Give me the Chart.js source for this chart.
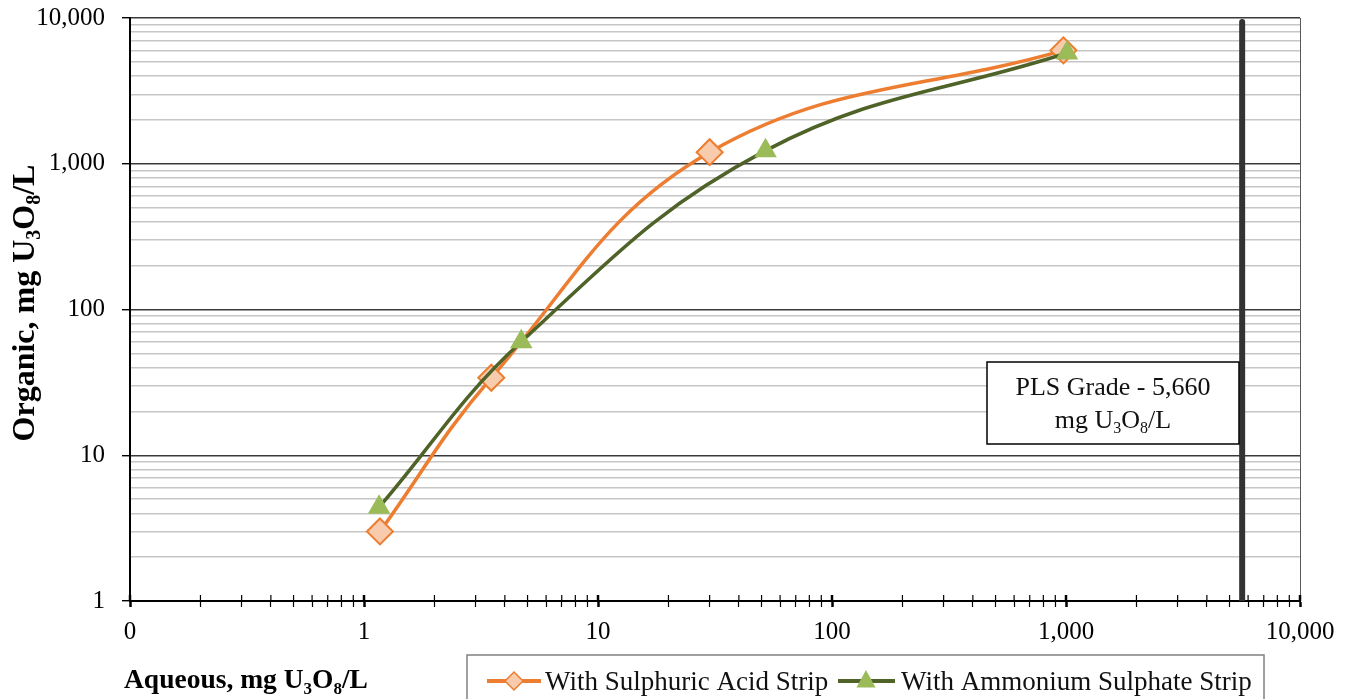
<!DOCTYPE html>
<html lang="en">
<head>
<meta charset="UTF-8">
<title>Uranium Strip Isotherms</title>
<script src="https://cdn.jsdelivr.net/npm/chart.js"></script>
<style>
  body { margin: 0; background: #fff; }
  canvas { display: block; }
</style>
</head>
<body>
<canvas id="isothermChart" width="1351" height="699"></canvas>
<script>
// strip isotherm points (aqueous vs organic, mg U3O8/L)
const sulphuricAqueous = [1.17, 3.5, 30, 975];
const sulphuricOrganic = [3.0, 34, 1200, 6000];
const ammoniumAqueous = [1.16, 4.7, 52, 1010];
const ammoniumOrganic = [4.4, 60, 1230, 5750];

// PLS grade marker line
const plsGrade = 5660;
const plsLineOrganic = [1, 9400];

const xTickValues = [0.1, 1, 10, 100, 1000, 10000];
const xTickLabels = ['0', '1', '10', '100', '1,000', '10,000'];
const yTickValues = [1, 10, 100, 1000, 10000];
const yTickLabels = ['1', '10', '100', '1,000', '10,000'];
const seriesNames = ['With Sulphuric Acid Strip', 'With Ammonium Sulphate Strip'];

const SERIF = '"Liberation Serif", "Times New Roman", serif';
const ORANGE = '#ED7D31', ORANGE_FILL = '#F8CBAD';
const GREEN = '#4F6228', GREEN_FILL = '#9BBB59';

function isDecade(v) {
  const l = Math.log10(v);
  return Math.abs(l - Math.round(l)) < 1e-6;
}

// 1..9 in every decade, same as the minor units on a log axis
function decadeTicks(min, max) {
  const ticks = [];
  for (let d = min; d < max * 0.999; d *= 10) {
    for (let m = 1; m <= 9; m++) ticks.push({ value: +(d * m).toPrecision(6) });
  }
  ticks.push({ value: max });
  return ticks;
}

function tickLabel(v, values, labels) {
  const i = values.findIndex(t => Math.abs(t - v) / t < 1e-6);
  return i >= 0 ? labels[i] : '';
}

// text with subscript pieces, parts = [[text, isSub], ...]
function drawRich(ctx, parts, x, y, size, weight, align) {
  const subSize = Math.round(size * 0.62);
  const font = s => `${weight} ${s}px ${SERIF}`;
  let total = 0;
  for (const [t, sub] of parts) {
    ctx.font = font(sub ? subSize : size);
    total += ctx.measureText(t).width;
  }
  let cx = align === 'center' ? x - total / 2 : align === 'right' ? x - total : x;
  ctx.textAlign = 'left';
  ctx.textBaseline = 'alphabetic';
  for (const [t, sub] of parts) {
    ctx.font = font(sub ? subSize : size);
    ctx.fillText(t, cx, sub ? y + size * 0.2 : y);
    cx += ctx.measureText(t).width;
  }
}

const unitParts = [['mg U', false], ['3', true], ['O', false], ['8', true], ['/L', false]];

function diamond(ctx, x, y, r) {
  ctx.beginPath();
  ctx.moveTo(x, y - r); ctx.lineTo(x + r, y); ctx.lineTo(x, y + r); ctx.lineTo(x - r, y);
  ctx.closePath();
}

function triangle(ctx, x, y, r) {
  ctx.beginPath();
  ctx.moveTo(x, y - r);
  ctx.lineTo(x + r * 0.87, y + r * 0.6);
  ctx.lineTo(x - r * 0.87, y + r * 0.6);
  ctx.closePath();
}

const decorPlugin = {
  id: 'decor',
  afterDraw(chart) {
    const { ctx, chartArea: a, scales: { x } } = chart;
    ctx.save();

    // right edge of the plot area
    ctx.strokeStyle = '#595959';
    ctx.lineWidth = 1;
    ctx.beginPath();
    ctx.moveTo(a.right + 0.5, a.top);
    ctx.lineTo(a.right + 0.5, a.bottom);
    ctx.stroke();

    // x tick marks cross the axis line
    ctx.strokeStyle = '#000';
    for (const t of x.ticks) {
      const px = x.getPixelForValue(t.value);
      ctx.lineWidth = isDecade(t.value) ? 2.5 : 1.2;
      ctx.beginPath();
      ctx.moveTo(px, a.bottom);
      ctx.lineTo(px, a.bottom - 6);
      ctx.stroke();
    }

    // PLS grade note
    ctx.fillStyle = '#fff';
    ctx.fillRect(987, 362, 252, 82);
    ctx.strokeStyle = '#000';
    ctx.lineWidth = 1.5;
    ctx.strokeRect(987, 362, 252, 82);
    ctx.fillStyle = '#111';
    drawRich(ctx, [['PLS Grade - 5,660', false]], 1113, 395, 26, 'normal', 'center');
    drawRich(ctx, unitParts, 1113, 428, 26, 'normal', 'center');

    // axis titles
    ctx.fillStyle = '#000';
    drawRich(ctx, [['Aqueous, ', false], ...unitParts], 124, 688, 27.5, 'bold', 'left');
    ctx.save();
    ctx.translate(34, 303);
    ctx.rotate(-Math.PI / 2);
    drawRich(ctx, [['Organic, ', false], ...unitParts], 0, 0, 32, 'bold', 'center');
    ctx.restore();

    // legend
    ctx.strokeStyle = '#808080';
    ctx.lineWidth = 1.5;
    ctx.strokeRect(467, 655, 797, 60);

    ctx.lineWidth = 4;
    ctx.strokeStyle = ORANGE;
    ctx.beginPath(); ctx.moveTo(487, 681); ctx.lineTo(541, 681); ctx.stroke();
    diamond(ctx, 514, 681, 9);
    ctx.fillStyle = ORANGE_FILL; ctx.fill();
    ctx.lineWidth = 1.5; ctx.stroke();

    ctx.lineWidth = 4;
    ctx.strokeStyle = GREEN;
    ctx.beginPath(); ctx.moveTo(838, 681); ctx.lineTo(895, 681); ctx.stroke();
    triangle(ctx, 866, 681, 11);
    ctx.fillStyle = GREEN_FILL; ctx.fill();

    ctx.fillStyle = '#111';
    drawRich(ctx, [[seriesNames[0], false]], 545, 690, 27, 'normal', 'left');
    drawRich(ctx, [[seriesNames[1], false]], 901, 690, 27, 'normal', 'left');

    ctx.restore();
  }
};

new Chart(document.getElementById('isothermChart'), {
  type: 'scatter',
  data: {
    datasets: [
      {
        label: seriesNames[0],
        data: sulphuricAqueous.map((v, i) => ({ x: v, y: sulphuricOrganic[i] })),
        showLine: true,
        tension: 0.4,
        borderColor: ORANGE,
        borderWidth: 3.5,
        pointStyle: 'rectRot',
        pointRadius: 13,
        pointBackgroundColor: ORANGE_FILL,
        pointBorderColor: ORANGE,
        pointBorderWidth: 2,
        order: 2
      },
      {
        label: seriesNames[1],
        data: ammoniumAqueous.map((v, i) => ({ x: v, y: ammoniumOrganic[i] })),
        showLine: true,
        tension: 0.4,
        borderColor: GREEN,
        borderWidth: 3.5,
        pointStyle: 'triangle',
        pointRadius: 13,
        pointBackgroundColor: GREEN_FILL,
        pointBorderColor: GREEN_FILL,
        pointBorderWidth: 0,
        order: 1
      },
      {
        label: 'PLS Grade',
        data: plsLineOrganic.map(v => ({ x: plsGrade, y: v })),
        showLine: true,
        borderColor: '#333333',
        borderWidth: 6,
        borderCapStyle: 'round',
        pointRadius: 0,
        order: 3
      }
    ]
  },
  options: {
    responsive: false,
    animation: false,
    events: [],
    layout: { padding: { top: 18, right: 51, left: 0, bottom: 0 } },
    plugins: {
      legend: { display: false },
      tooltip: { enabled: false }
    },
    scales: {
      x: {
        type: 'logarithmic',
        min: 0.1,
        max: 10000,
        afterBuildTicks: s => { s.ticks = decadeTicks(0.1, 10000); },
        afterFit: s => { s.height = 98; s.paddingLeft = 0; s.paddingRight = 0; },
        grid: {
          drawOnChartArea: false,
          drawTicks: true,
          tickLength: 6,
          tickColor: '#000',
          tickWidth: c => (c.tick && isDecade(c.tick.value)) ? 2.5 : 1.2
        },
        border: { color: '#000', width: 2 },
        ticks: {
          autoSkip: false,
          maxRotation: 0,
          padding: 10,
          color: '#000',
          font: { family: SERIF, size: 25 },
          callback: v => tickLabel(v, xTickValues, xTickLabels)
        }
      },
      y: {
        type: 'logarithmic',
        min: 1,
        max: 10000,
        afterBuildTicks: s => { s.ticks = decadeTicks(1, 10000); },
        afterFit: s => { s.width = 130; s.paddingTop = 0; s.paddingBottom = 0; },
        grid: {
          color: c => (c.tick && isDecade(c.tick.value)) ? '#3a3a3a' : '#c6c6c6',
          lineWidth: 1.4,
          drawTicks: true,
          tickLength: 8,
          tickColor: c => (c.tick && isDecade(c.tick.value)) ? '#000' : 'rgba(0,0,0,0)'
        },
        border: { color: '#000', width: 2 },
        ticks: {
          autoSkip: false,
          padding: 17,
          color: '#000',
          font: { family: SERIF, size: 25 },
          callback: v => tickLabel(v, yTickValues, yTickLabels)
        }
      }
    }
  },
  plugins: [decorPlugin]
});
</script>
</body>
</html>
